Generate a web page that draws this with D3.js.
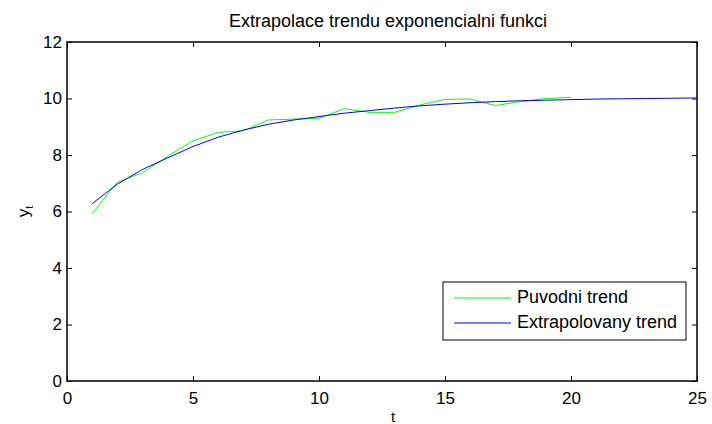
<!DOCTYPE html>
<html>
<head>
<meta charset="utf-8">
<script src="https://cdn.jsdelivr.net/npm/d3@7"></script>
<style>
  body { margin: 0; background: #fff; }
  text { font-family: "Liberation Sans", Arial, sans-serif; }
</style>
</head>
<body>
<svg id="chart" width="712" height="424"></svg>
<script>
// data
var t_orig = d3.range(1, 21);
var y_orig = [5.92, 7.04, 7.37, 7.96, 8.50, 8.80, 8.86, 9.24, 9.27, 9.30,
              9.64, 9.51, 9.51, 9.77, 9.97, 9.98, 9.75, 9.89, 10.00, 10.04];
var t_extra = d3.range(1, 26);
var y_extra = [6.28, 6.97, 7.49, 7.90, 8.30, 8.63, 8.88, 9.09, 9.24, 9.36,
               9.48, 9.57, 9.66, 9.74, 9.80, 9.85, 9.89, 9.92, 9.94, 9.96,
               9.98, 9.99, 10.00, 10.01, 10.02];
var x_ticks = [0, 5, 10, 15, 20, 25];
var y_ticks = [0, 2, 4, 6, 8, 10, 12];
var legend_labels = ["Puvodni trend", "Extrapolovany trend"];
var series_colors = ["#00ff00", "#0000ff"];

var svg = d3.select("svg#chart");
const LEFT = 67, RIGHT = 697, TOP = 42, BOTTOM = 381;
const TICK = 5;
const FONT = "Liberation Sans, Arial, sans-serif";

var x = d3.scaleLinear().domain([0, 25]).range([LEFT, RIGHT]);
var y = d3.scaleLinear().domain([0, 12]).range([BOTTOM, TOP]);

// bottom axis
svg.append("g")
    .attr("transform", "translate(0," + BOTTOM + ")")
    .call(d3.axisBottom(x).tickValues(x_ticks).tickSizeInner(-TICK).tickSizeOuter(0).tickPadding(11))
    .call(g => g.select(".domain").remove())
    .call(g => g.selectAll("text").attr("font-size", 17).attr("fill", "#000").attr("font-family", FONT));

// top ticks
svg.append("g")
    .attr("transform", "translate(0," + TOP + ")")
    .call(d3.axisTop(x).tickValues(x_ticks).tickSizeInner(-TICK).tickSizeOuter(0).tickFormat(""))
    .call(g => g.select(".domain").remove());

// left axis
svg.append("g")
    .attr("transform", "translate(" + LEFT + ",0)")
    .call(d3.axisLeft(y).tickValues(y_ticks).tickSizeInner(-TICK).tickSizeOuter(0).tickPadding(5))
    .call(g => g.select(".domain").remove())
    .call(g => g.selectAll("text").attr("font-size", 17).attr("fill", "#000").attr("font-family", FONT));

// right ticks
svg.append("g")
    .attr("transform", "translate(" + RIGHT + ",0)")
    .call(d3.axisRight(y).tickValues(y_ticks).tickSizeInner(-TICK).tickSizeOuter(0).tickFormat(""))
    .call(g => g.select(".domain").remove());

// box
svg.append("rect")
    .attr("x", LEFT)
    .attr("y", TOP)
    .attr("width", RIGHT - LEFT)
    .attr("height", BOTTOM - TOP)
    .attr("fill", "none")
    .style("stroke", "black")
    .style("stroke-width", 1.5);

var line = d3.line()
    .x(d => x(d[0]))
    .y(d => y(d[1]));

svg.append("path")
    .datum(t_orig.map((t, i) => [t, y_orig[i]]))
    .attr("d", line)
    .attr("fill", "none")
    .style("stroke", series_colors[0])
    .style("stroke-width", 1);

svg.append("path")
    .datum(t_extra.map((t, i) => [t, y_extra[i]]))
    .attr("d", line)
    .attr("fill", "none")
    .style("stroke", series_colors[1])
    .style("stroke-width", 1);

// title and labels
svg.append("text")
    .attr("x", 388)
    .attr("y", 27)
    .attr("text-anchor", "middle")
    .attr("font-size", 18)
    .text("Extrapolace trendu exponencialni funkci");

svg.append("text")
    .attr("x", 393)
    .attr("y", 422)
    .attr("text-anchor", "middle")
    .attr("font-size", 15)
    .text("t");

var ylab = svg.append("text")
    .attr("transform", "translate(29," + ((TOP + BOTTOM) / 2) + ") rotate(-90)")
    .attr("text-anchor", "middle")
    .attr("font-size", 17);
ylab.append("tspan").text("y");
ylab.append("tspan").attr("font-size", 11).attr("dy", 4).text("t");

// legend
var legend = svg.append("g").attr("transform", "translate(443,282)");
legend.append("rect")
    .attr("width", 243)
    .attr("height", 58)
    .attr("fill", "white")
    .style("stroke", "black")
    .style("stroke-width", 1);

var items = legend.selectAll("g.item")
    .data(legend_labels)
    .join("g")
    .attr("class", "item")
    .attr("transform", (d, i) => "translate(0," + (16 + i * 25) + ")");

items.append("line")
    .attr("x1", 11)
    .attr("x2", 68)
    .style("stroke", (d, i) => series_colors[i])
    .style("stroke-width", 1);

items.append("text")
    .attr("x", 74)
    .attr("dominant-baseline", "middle")
    .attr("font-size", 18)
    .text(d => d);
</script>
</body>
</html>
